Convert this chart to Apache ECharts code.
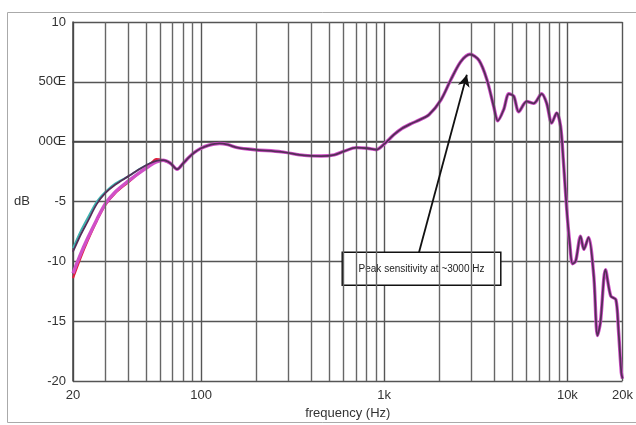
<!DOCTYPE html>
<html>
<head>
<meta charset="utf-8">
<script src="https://cdn.jsdelivr.net/npm/echarts@6/dist/echarts.min.js"></script>
<style>
  html, body { margin: 0; padding: 0; background: #fff; }
  #chart { width: 636px; height: 425px; }
</style>
</head>
<body>
<div id="chart"></div>
<script>
// low-frequency part, where the four measurements split apart
var lowFreq = [20, 22, 24, 27, 30, 34, 40, 46, 52, 57]
var tealLow = [-8.9, -7.5, -6.4, -5.0, -4.2, -3.5, -2.9, -2.3, -1.85, -1.6]
var navyLow = [-9.2, -7.8, -6.7, -5.2, -4.3, -3.6, -2.9, -2.3, -1.85, -1.6]
var magentaLow = [-11.0, -9.4, -8.1, -6.5, -5.2, -4.2, -3.3, -2.6, -2.05, -1.7]
var redLow = [-11.4, -9.7, -8.3, -6.6, -5.3, -4.3, -3.4, -2.6, -2.0, -1.45]

// shared response above ~60 Hz
var mainFreq = [62, 68, 74, 80, 86, 92, 100, 110, 126, 140, 158, 196, 275, 366, 453, 534, 605, 703, 807, 904,
  1000, 1064, 1132, 1250, 1400, 1549, 1755, 2042, 2314, 2622, 2940, 3290, 3634, 3967, 4170, 4496, 4786, 5096,
  5424, 5994, 6546, 7240, 7710, 8210, 8740, 9180, 9500, 9900, 10300, 10670, 11090, 11800, 12300, 13040, 13930,
  14600, 15150, 16150, 17250, 18400, 19000, 19700, 20000]
var mainDb = [-1.55, -1.8, -2.3, -1.8, -1.3, -0.9, -0.55, -0.3, -0.15, -0.25, -0.5, -0.67, -0.85, -1.15, -1.2, -1.1, -0.8, -0.5, -0.55, -0.67,
  -0.2, 0.2, 0.6, 1.1, 1.5, 1.8, 2.25, 3.5, 5.2, 6.7, 7.3, 6.8, 5.2, 2.9, 1.75, 2.7, 4.0, 3.8,
  2.5, 3.36, 3.2, 4.0, 3.2, 1.55, 2.4, 1.3, -1.5, -5.5, -8.5, -10.2, -10.0, -7.9, -9.0, -8.0, -11.2,
  -16.2, -15.1, -10.7, -12.9, -13.2, -15.7, -19.3, -19.8]

var gridFreq = [30, 40, 50, 60, 70, 80, 90, 200, 300, 400, 500, 600, 700, 800, 900,
  2000, 3000, 4000, 5000, 6000, 7000, 8000, 9000]
var yLabels = { '10': '10', '5': '50Œ', '0': '00Œ' }

var note = 'Peak sensitivity at ~3000 Hz'
var arrowFrom = [1549, -9.25]
var arrowTo = [2826, 5.6]
var boxFrom = [590, -9.25]
var boxTo = [4330, -12.0]

function pairs(fx, fy) {
  var out = []
  for (var i = 0; i < fx.length; i++) out.push([fx[i], fy[i]])
  return out
}
function curve(low, upto) {
  var d = pairs(lowFreq, low)
  for (var i = 0; i < mainFreq.length; i++) {
    if (upto && mainFreq[i] > upto) break
    d.push([mainFreq[i], mainDb[i]])
  }
  return d
}

var chart = echarts.init(document.getElementById('chart'))
var font = 'Liberation Sans, Arial, sans-serif'
var option = {
  animation: false,
  backgroundColor: '#fff',
  textStyle: { fontFamily: font },
  graphic: [{
    type: 'rect',
    shape: { x: 7.5, y: 12.5, width: 700, height: 410 },
    style: { fill: 'none', stroke: '#aaa', lineWidth: 1 },
    z: 0
  }],
  grid: { left: 73, right: 12, top: 22, bottom: 42 },
  xAxis: {
    type: 'log',
    logBase: 10,
    min: 20,
    max: 20000,
    name: 'frequency (Hz)',
    nameLocation: 'middle',
    nameGap: 26,
    nameTextStyle: { color: '#333', fontSize: 13 },
    axisLine: { lineStyle: { color: '#444', width: 1.5 } },
    axisTick: { show: false },
    axisLabel: {
      color: '#333',
      fontSize: 13,
      margin: 8,
      formatter: function (v) {
        v = Math.round(v)
        return v >= 1000 ? (v / 1000) + 'k' : String(v)
      }
    },
    splitLine: { show: true, lineStyle: { color: '#555', width: 1.4 } }
  },
  yAxis: {
    type: 'value',
    min: -20,
    max: 10,
    interval: 5,
    name: 'dB',
    nameLocation: 'middle',
    nameRotate: 0,
    nameGap: 43,
    nameTextStyle: { color: '#333', fontSize: 13 },
    axisLine: { show: true, lineStyle: { color: '#444', width: 1.5 } },
    axisTick: { show: false },
    axisLabel: {
      color: '#333',
      fontSize: 13,
      margin: 7,
      formatter: function (v) {
        return yLabels[String(v)] || String(v)
      }
    },
    splitLine: { show: true, lineStyle: { color: '#555', width: 1.4 } }
  },
  series: [
    {
      name: 'grid',
      type: 'line',
      data: [],
      silent: true,
      z: 1,
      markLine: {
        silent: true,
        symbol: ['none', 'none'],
        label: { show: false },
        lineStyle: { color: '#666', width: 1.4, type: 'solid' },
        data: gridFreq.map(function (f) { return { xAxis: f } })
      }
    },
    {
      name: 'teal',
      type: 'line',
      data: curve(tealLow, 100),
      showSymbol: false,
      smooth: 0.3,
      z: 3,
      lineStyle: { color: '#3fb3b0', width: 2 }
    },
    {
      name: 'red',
      type: 'line',
      data: curve(redLow, 70),
      showSymbol: false,
      smooth: 0.3,
      z: 3,
      lineStyle: { color: '#e0203c', width: 2.2 }
    },
    {
      name: 'magenta',
      type: 'line',
      data: curve(magentaLow),
      showSymbol: false,
      smooth: 0.3,
      z: 4,
      lineStyle: { color: '#d050c8', width: 3.4 }
    },
    {
      name: 'navy',
      type: 'line',
      data: curve(navyLow),
      showSymbol: false,
      smooth: 0.3,
      z: 5,
      lineStyle: { color: '#552e58', width: 1.8 }
    },
    {
      name: 'note',
      type: 'line',
      data: [],
      silent: true,
      z: 6,
      markLine: {
        silent: true,
        symbol: ['none', 'arrow'],
        symbolSize: [9, 12],
        label: { show: false },
        lineStyle: { color: '#111', width: 1.8, type: 'solid' },
        data: [[{ coord: arrowFrom }, { coord: arrowTo }]]
      },
      markArea: {
        silent: true,
        itemStyle: { color: '#fff', borderColor: '#111', borderWidth: 1.5, opacity: 1 },
        label: {
          show: true,
          position: 'inside',
          color: '#222',
          fontSize: 10,
          formatter: note
        },
        data: [[{ coord: boxFrom }, { coord: boxTo }]]
      }
    }
  ]
}
chart.setOption(option)
</script>
</body>
</html>
